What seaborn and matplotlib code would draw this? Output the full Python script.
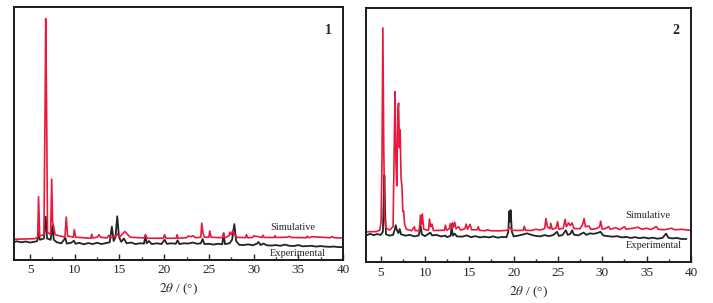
import matplotlib
matplotlib.use("Agg")
import matplotlib.pyplot as plt
from matplotlib.ticker import MultipleLocator
import pandas as pd
import seaborn as sns

# Panel 1 - simulated pattern (2theta, relative intensity)
sim1_x = [3.2, 5.5, 5.85, 5.95, 6.08, 6.55, 6.68, 6.75, 6.85, 6.95, 7.3, 7.42, 7.52, 7.65, 7.8,
          8.9, 9.05, 9.2, 9.85, 9.95, 10.1, 11.8, 11.9, 12.0, 12.5, 12.7, 12.9, 13.6, 13.8, 14.0,
          14.6, 14.75, 15.0, 15.6, 15.8, 16.2, 17.8, 17.9, 18.1, 19.9, 20.05, 20.2, 21.35, 21.45,
          21.55, 22.5, 22.7, 23.0, 23.2, 23.5, 24.1, 24.2, 24.35, 24.5, 25.0, 25.1, 25.25, 26.55,
          26.65, 26.75, 27.25, 27.35, 27.5, 27.7, 27.9, 28.1, 29.1, 29.2, 29.35, 29.9, 30.0, 30.4,
          30.95, 31.05, 31.2, 32.3, 32.4, 32.5, 33.8, 34.0, 34.2, 35.9, 36.0, 36.2, 36.5, 38.6,
          38.8, 39.0, 40.0]
sim1_y = [8.2, 8.4, 9.0, 25.0, 9.5, 10.0, 60.0, 95.5, 60.0, 11.0, 10.0, 32.0, 15.0, 13.0, 10.0,
          9.0, 17.0, 9.5, 9.0, 12.0, 9.0, 8.6, 10.2, 8.7, 9.0, 10.0, 9.0, 8.7, 9.7, 8.7,
          9.5, 10.5, 9.0, 11.3, 10.5, 9.0, 8.7, 10.0, 8.6, 8.6, 10.0, 8.6, 8.6, 10.0,
          8.6, 8.8, 9.5, 9.2, 9.6, 8.8, 9.0, 14.6, 10.5, 9.0, 9.0, 11.5, 9.0, 8.8,
          10.7, 8.8, 9.5, 11.0, 10.0, 11.8, 10.0, 9.0, 8.8, 10.0, 8.8, 8.9, 9.5, 9.3,
          8.9, 9.8, 8.9, 8.9, 9.6, 8.9, 9.0, 9.4, 8.9, 8.8, 9.4, 8.8, 9.2, 8.8,
          9.3, 8.8, 8.7]

# Panel 1 - experimental pattern
exp1_x = [3.2, 3.5, 4.0, 4.5, 5.0, 5.5, 5.8, 5.95, 6.1, 6.55, 6.75, 6.9, 7.3, 7.5, 7.65, 8.0,
          8.5, 8.95, 9.1, 9.6, 9.9, 10.1, 10.5, 11.0, 11.5, 12.0, 12.5, 13.0, 13.5, 13.9, 14.15,
          14.35, 14.55, 14.75, 14.95, 15.2, 15.5, 15.8, 16.3, 16.8, 17.3, 17.75, 17.9, 18.05,
          18.3, 18.6, 19.2, 19.7, 20.05, 20.3, 20.8, 21.3, 21.5, 21.7, 22.2, 22.7, 23.2, 23.7,
          24.1, 24.3, 24.5, 25.0, 25.5, 26.0, 26.5, 26.65, 26.8, 27.3, 27.6, 27.85, 28.05, 28.4,
          28.9, 29.4, 29.9, 30.4, 30.55, 30.8, 31.1, 31.5, 32.0, 32.5, 33.0, 33.5, 34.0, 34.5,
          35.0, 35.5, 36.0, 36.5, 37.0, 37.5, 38.0, 38.5, 39.0, 39.5, 40.0]
exp1_y = [7.0, 7.4, 7.0, 7.3, 6.9, 7.2, 7.5, 10.8, 8.0, 8.5, 17.1, 8.5, 8.0, 13.6, 8.0, 7.0,
          6.6, 8.7, 6.5, 6.8, 7.6, 6.4, 6.8, 6.2, 6.7, 6.3, 6.8, 6.3, 6.7, 7.0, 13.2,
          7.5, 9.0, 17.3, 9.0, 7.2, 8.5, 6.6, 6.9, 6.3, 6.6, 6.5, 9.8, 6.6,
          7.5, 6.3, 6.6, 6.3, 8.0, 6.4, 6.6, 6.4, 7.8, 6.3, 6.6, 6.5, 6.9, 6.4,
          6.6, 8.3, 6.3, 6.4, 6.1, 6.4, 6.2, 10.5, 6.3, 6.6, 8.0, 14.2, 7.5, 6.0,
          5.9, 6.2, 5.8, 6.5, 7.1, 5.9, 6.5, 5.8, 5.7, 5.9, 5.6, 6.1, 5.6, 5.5,
          5.9, 5.4, 5.5, 5.6, 5.3, 5.5, 5.3, 5.2, 5.3, 5.1, 5.1]

# Panel 2 - simulated pattern
sim2_x = [3.4, 4.5, 4.9, 5.05, 5.15, 5.25, 5.35, 5.45, 5.6, 6.0, 6.4, 6.55, 6.62, 6.72, 6.82,
          6.95, 7.02, 7.12, 7.2, 7.3, 7.4, 7.5, 7.6, 7.7, 7.9, 8.5, 8.8, 8.9, 9.35, 9.5, 9.6,
          9.7, 9.85, 10.4, 10.5, 10.65, 10.8, 10.95, 12.2, 12.3, 12.45, 12.75, 12.85, 13.0,
          13.1, 13.2, 13.35, 13.5, 13.8, 14.0, 14.5, 14.65, 14.8, 15.1, 15.25, 15.9, 16.0,
          16.15, 16.8, 17.0, 17.5, 18.5, 19.3, 19.55, 19.8, 20.5, 21.1, 21.2, 21.35, 22.0,
          22.5, 23.0, 23.5, 23.65, 23.8, 24.1, 24.2, 24.35, 24.8, 24.95, 25.1, 25.6, 25.8,
          25.95, 26.2, 26.4, 26.6, 26.8, 27.5, 27.8, 27.95, 28.1, 28.5, 28.7, 29.3, 29.7,
          29.82, 30.0, 30.5, 30.7, 30.9, 31.5, 32.0, 32.5, 32.7, 33.5, 34.0, 34.5, 35.0,
          35.5, 36.1, 36.3, 37.0, 37.8, 38.2, 39.0, 39.5, 40.0]
sim2_y = [12.0, 12.1, 12.6, 16.0, 40.0, 92.0, 45.0, 18.0, 13.5, 12.7, 14.0, 50.0, 67.0, 40.0, 30.0,
          60.0, 62.5, 45.0, 52.0, 33.0, 30.0, 20.0, 20.0, 15.0, 13.0, 12.4, 14.0, 12.4, 12.5, 18.5, 15.0,
          19.0, 13.0, 12.6, 17.0, 14.0, 15.0, 12.5, 12.6, 14.6, 12.6, 13.2, 15.2, 13.5,
          15.5, 13.8, 15.8, 13.2, 14.0, 12.7, 13.2, 15.0, 13.0, 14.9, 12.8, 12.8, 14.0,
          12.6, 12.4, 12.8, 12.4, 12.4, 12.6, 13.8, 12.6, 12.5, 12.6, 14.2, 12.6, 12.5,
          13.0, 12.7, 13.3, 17.2, 14.0, 13.2, 15.3, 13.0, 13.5, 16.0, 13.0, 13.4, 16.9,
          14.0, 15.5, 14.5, 15.5, 13.3, 13.2, 15.0, 17.2, 14.0, 14.3, 13.0, 13.2, 14.0,
          16.2, 13.0, 13.5, 14.1, 13.0, 13.6, 12.9, 14.0, 13.0, 13.4, 13.8, 13.0, 13.4,
          12.9, 14.1, 13.0, 12.8, 13.4, 12.8, 13.0, 12.7, 12.6]

# Panel 2 - experimental pattern
exp2_x = [3.4, 3.8, 4.2, 4.6, 5.0, 5.25, 5.35, 5.42, 5.5, 5.6, 6.0, 6.4, 6.6, 6.7, 6.85, 7.0,
          7.15, 7.3, 7.8, 8.3, 8.8, 9.3, 9.5, 9.65, 10.0, 10.6, 10.8, 11.3, 11.8, 12.3, 12.5,
          12.9, 13.0, 13.15, 13.35, 13.6, 14.2, 14.7, 15.2, 15.7, 16.2, 16.7, 17.2, 17.7, 18.2,
          18.7, 19.2, 19.4, 19.5, 19.58, 19.66, 19.8, 20.0, 20.5, 21.0, 21.5, 22.0, 22.5, 23.0,
          23.5, 24.0, 24.5, 24.9, 25.1, 25.5, 25.9, 26.1, 26.4, 26.6, 26.8, 27.3, 27.9, 28.2,
          28.6, 29.0, 29.4, 29.8, 30.1, 30.6, 31.2, 31.7, 32.2, 32.7, 33.2, 33.7, 34.2, 34.7,
          35.2, 35.7, 36.2, 36.8, 37.2, 37.45, 37.9, 38.4, 38.9, 39.5]
exp2_y = [10.6, 11.2, 10.7, 11.1, 10.8, 12.0, 25.0, 34.2, 20.0, 11.0, 10.5, 10.8, 13.0, 14.6, 12.5, 11.5,
          13.1, 11.0, 10.5, 10.8, 10.2, 10.6, 14.4, 11.0, 10.3, 11.7, 10.6, 10.8, 10.2, 10.5, 9.9,
          10.5, 14.0, 10.5, 11.3, 10.2, 10.1, 10.6, 9.9, 10.3, 9.8, 10.1, 9.8, 10.2, 9.7,
          10.0, 9.9, 12.0, 20.0, 16.0, 20.5, 12.0, 10.2, 10.5, 10.9, 11.4, 10.8, 10.4, 10.2,
          10.7, 10.3, 10.8, 12.0, 10.4, 10.7, 12.6, 10.8, 11.2, 12.6, 10.9, 10.6, 11.7, 10.8,
          11.4, 11.2, 11.5, 12.0, 10.6, 10.3, 10.1, 10.3, 9.8, 10.0, 9.6, 9.9, 9.5, 9.8,
          9.4, 9.7, 9.3, 9.6, 11.3, 9.7, 9.4, 9.6, 9.2, 9.2]

panel_labels = ["1", "2"]
curve_names = ["Simulative", "Experimental"]

RED = "#e8193c"
BLACK = "#1e2525"

sns.set_style("white")
plt.rcParams["font.family"] = ["Liberation Serif", "DejaVu Serif"]
plt.rcParams["mathtext.fontset"] = "stix"

fig = plt.figure(figsize=(7.13, 3.03), dpi=100)
ax1 = fig.add_axes([0.0196, 0.142, 0.4614, 0.834])
ax2 = fig.add_axes([0.514, 0.134, 0.455, 0.841])

panels = [
    (ax1, sim1_x, sim1_y, exp1_x, exp1_y, 3.2, (293, 227), (298, 254)),
    (ax2, sim2_x, sim2_y, exp2_x, exp2_y, 3.4, (648, 216), (654, 246)),
]

for i, (ax, sx, sy, ex, ey, x0, sim_pos, exp_pos) in enumerate(panels):
    sim = pd.DataFrame({"x": sx, "y": sy})
    exp = pd.DataFrame({"x": ex, "y": ey})
    sns.lineplot(data=exp, x="x", y="y", ax=ax, color=BLACK, lw=1.3,
                 sort=False, estimator=None)
    sns.lineplot(data=sim, x="x", y="y", ax=ax, color=RED, lw=1.2,
                 sort=False, estimator=None)

    ax.set_xlim(x0, 40)
    ax.set_ylim(0, 100)
    ax.set_yticks([])
    ax.set_ylabel("")
    ax.set_xlabel(r"$2\theta$ / (°)", fontsize=9.5, labelpad=4)
    ax.xaxis.set_major_locator(MultipleLocator(5))
    ax.xaxis.set_minor_locator(MultipleLocator(2.5))
    ax.tick_params(axis="x", which="major", direction="in", length=4, width=1,
                   labelsize=9.5, pad=3, bottom=True)
    ax.tick_params(axis="x", which="minor", direction="in", length=2.5, width=1,
                   bottom=True)
    for sp in ax.spines.values():
        sp.set_visible(True)
        sp.set_color("#1a1a1a")
        sp.set_linewidth(1.4)

    ax.text(0.955, 0.91, panel_labels[i], transform=ax.transAxes,
            fontsize=10, fontweight="bold", ha="center", va="center")
    # curve names, placed in figure pixels
    fig.text(sim_pos[0] / 713, 1 - sim_pos[1] / 303, curve_names[0],
             fontsize=7.5, ha="center", va="center")
    fig.text(exp_pos[0] / 713, 1 - exp_pos[1] / 303, curve_names[1],
             fontsize=7.5, ha="center", va="center")

fig.savefig("out.png", dpi=100)
